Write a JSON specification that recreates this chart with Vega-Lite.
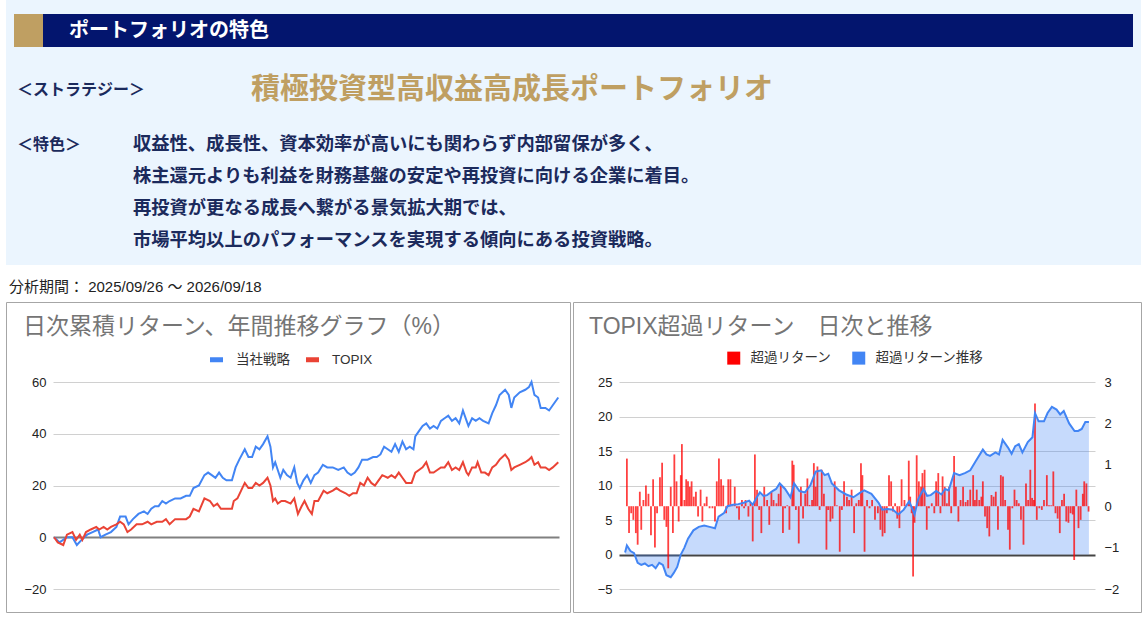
{
  "$schema": "https://vega.github.io/schema/vega-lite/v6.json",
  "padding": {"left": 5, "top": 0, "right": 1, "bottom": 0},
  "background": "white",
  "config": {
    "font": "Liberation Sans, Noto Sans CJK JP, sans-serif",
    "view": {"stroke": null},
    "axis": {"labelFontSize": 13, "labelColor": "#222222", "domain": false, "ticks": false, "tickSize": 0, "title": null, "labelFont": "Liberation Sans, Noto Sans CJK JP, sans-serif"},
    "legend": {"labelFont": "Liberation Sans, Noto Sans CJK JP, sans-serif", "labelFontSize": 13.5, "labelColor": "#333333", "title": null, "padding": 0}
  },
  "datasets": {
    "cum": [
      {"t":145,"s":"当社戦略","v":0},{"t":160,"s":"当社戦略","v":-2},{"t":180,"s":"当社戦略","v":0},{"t":195,"s":"当社戦略","v":0},{"t":207,"s":"当社戦略","v":-3},{"t":220,"s":"当社戦略","v":-1},{"t":235,"s":"当社戦略","v":1},{"t":250,"s":"当社戦略","v":2},{"t":265,"s":"当社戦略","v":3},{"t":272,"s":"当社戦略","v":0},{"t":285,"s":"当社戦略","v":1},{"t":300,"s":"当社戦略","v":2},{"t":315,"s":"当社戦略","v":4},{"t":325,"s":"当社戦略","v":8},{"t":340,"s":"当社戦略","v":8},{"t":348,"s":"当社戦略","v":5},{"t":360,"s":"当社戦略","v":7},{"t":375,"s":"当社戦略","v":9},{"t":390,"s":"当社戦略","v":10},{"t":400,"s":"当社戦略","v":9},{"t":410,"s":"当社戦略","v":11},{"t":420,"s":"当社戦略","v":12},{"t":430,"s":"当社戦略","v":12},{"t":440,"s":"当社戦略","v":14},{"t":450,"s":"当社戦略","v":13},{"t":460,"s":"当社戦略","v":14},{"t":475,"s":"当社戦略","v":15},{"t":490,"s":"当社戦略","v":15},{"t":505,"s":"当社戦略","v":16},{"t":515,"s":"当社戦略","v":16},{"t":525,"s":"当社戦略","v":19},{"t":540,"s":"当社戦略","v":20},{"t":555,"s":"当社戦略","v":24},{"t":565,"s":"当社戦略","v":25},{"t":575,"s":"当社戦略","v":24},{"t":585,"s":"当社戦略","v":23},{"t":595,"s":"当社戦略","v":25},{"t":605,"s":"当社戦略","v":23},{"t":615,"s":"当社戦略","v":22},{"t":630,"s":"当社戦略","v":22},{"t":640,"s":"当社戦略","v":27},{"t":650,"s":"当社戦略","v":30},{"t":665,"s":"当社戦略","v":34},{"t":675,"s":"当社戦略","v":31},{"t":685,"s":"当社戦略","v":31},{"t":695,"s":"当社戦略","v":35},{"t":705,"s":"当社戦略","v":34},{"t":715,"s":"当社戦略","v":36},{"t":727,"s":"当社戦略","v":39},{"t":735,"s":"当社戦略","v":35},{"t":742,"s":"当社戦略","v":27},{"t":748,"s":"当社戦略","v":29},{"t":755,"s":"当社戦略","v":26},{"t":762,"s":"当社戦略","v":23},{"t":770,"s":"当社戦略","v":26},{"t":780,"s":"当社戦略","v":24},{"t":790,"s":"当社戦略","v":23},{"t":800,"s":"当社戦略","v":27},{"t":808,"s":"当社戦略","v":21},{"t":815,"s":"当社戦略","v":19},{"t":825,"s":"当社戦略","v":22},{"t":835,"s":"当社戦略","v":24},{"t":845,"s":"当社戦略","v":21},{"t":855,"s":"当社戦略","v":24},{"t":865,"s":"当社戦略","v":25},{"t":878,"s":"当社戦略","v":28},{"t":890,"s":"当社戦略","v":27},{"t":905,"s":"当社戦略","v":27},{"t":920,"s":"当社戦略","v":26},{"t":935,"s":"当社戦略","v":27},{"t":945,"s":"当社戦略","v":25},{"t":955,"s":"当社戦略","v":24},{"t":965,"s":"当社戦略","v":25},{"t":975,"s":"当社戦略","v":27},{"t":985,"s":"当社戦略","v":30},{"t":1000,"s":"当社戦略","v":30},{"t":1015,"s":"当社戦略","v":31},{"t":1025,"s":"当社戦略","v":31},{"t":1035,"s":"当社戦略","v":32},{"t":1045,"s":"当社戦略","v":35},{"t":1055,"s":"当社戦略","v":34},{"t":1065,"s":"当社戦略","v":33},{"t":1075,"s":"当社戦略","v":36},{"t":1085,"s":"当社戦略","v":33},{"t":1095,"s":"当社戦略","v":37},{"t":1105,"s":"当社戦略","v":34},{"t":1115,"s":"当社戦略","v":35},{"t":1125,"s":"当社戦略","v":34},{"t":1130,"s":"当社戦略","v":39},{"t":1140,"s":"当社戦略","v":41},{"t":1150,"s":"当社戦略","v":43},{"t":1160,"s":"当社戦略","v":44},{"t":1170,"s":"当社戦略","v":42},{"t":1180,"s":"当社戦略","v":43},{"t":1190,"s":"当社戦略","v":42},{"t":1200,"s":"当社戦略","v":45},{"t":1210,"s":"当社戦略","v":46},{"t":1220,"s":"当社戦略","v":47},{"t":1230,"s":"当社戦略","v":45},{"t":1240,"s":"当社戦略","v":46},{"t":1250,"s":"当社戦略","v":44},{"t":1260,"s":"当社戦略","v":49},{"t":1270,"s":"当社戦略","v":45},{"t":1275,"s":"当社戦略","v":43},{"t":1285,"s":"当社戦略","v":46},{"t":1295,"s":"当社戦略","v":45},{"t":1305,"s":"当社戦略","v":46},{"t":1315,"s":"当社戦略","v":45},{"t":1330,"s":"当社戦略","v":44},{"t":1340,"s":"当社戦略","v":48},{"t":1350,"s":"当社戦略","v":51},{"t":1360,"s":"当社戦略","v":55},{"t":1375,"s":"当社戦略","v":57},{"t":1385,"s":"当社戦略","v":55},{"t":1392,"s":"当社戦略","v":50},{"t":1400,"s":"当社戦略","v":54},{"t":1415,"s":"当社戦略","v":56},{"t":1430,"s":"当社戦略","v":57},{"t":1440,"s":"当社戦略","v":58},{"t":1447,"s":"当社戦略","v":60},{"t":1455,"s":"当社戦略","v":55},{"t":1465,"s":"当社戦略","v":54},{"t":1472,"s":"当社戦略","v":50},{"t":1485,"s":"当社戦略","v":50},{"t":1495,"s":"当社戦略","v":49},{"t":1505,"s":"当社戦略","v":51},{"t":1520,"s":"当社戦略","v":54},
      {"t":145,"s":"TOPIX","v":0},{"t":155,"s":"TOPIX","v":-2},{"t":170,"s":"TOPIX","v":-3},{"t":180,"s":"TOPIX","v":1},{"t":195,"s":"TOPIX","v":2},{"t":205,"s":"TOPIX","v":-1},{"t":215,"s":"TOPIX","v":1},{"t":222,"s":"TOPIX","v":-1},{"t":232,"s":"TOPIX","v":2},{"t":245,"s":"TOPIX","v":3},{"t":260,"s":"TOPIX","v":4},{"t":268,"s":"TOPIX","v":3},{"t":280,"s":"TOPIX","v":4},{"t":290,"s":"TOPIX","v":3},{"t":300,"s":"TOPIX","v":4},{"t":315,"s":"TOPIX","v":5},{"t":325,"s":"TOPIX","v":6},{"t":335,"s":"TOPIX","v":5},{"t":345,"s":"TOPIX","v":2},{"t":355,"s":"TOPIX","v":3},{"t":370,"s":"TOPIX","v":5},{"t":385,"s":"TOPIX","v":5},{"t":400,"s":"TOPIX","v":6},{"t":410,"s":"TOPIX","v":5},{"t":425,"s":"TOPIX","v":6},{"t":440,"s":"TOPIX","v":6},{"t":450,"s":"TOPIX","v":7},{"t":460,"s":"TOPIX","v":5},{"t":475,"s":"TOPIX","v":7},{"t":490,"s":"TOPIX","v":7},{"t":505,"s":"TOPIX","v":7},{"t":515,"s":"TOPIX","v":8},{"t":525,"s":"TOPIX","v":11},{"t":540,"s":"TOPIX","v":10},{"t":555,"s":"TOPIX","v":15},{"t":570,"s":"TOPIX","v":14},{"t":580,"s":"TOPIX","v":12},{"t":590,"s":"TOPIX","v":13},{"t":600,"s":"TOPIX","v":11},{"t":615,"s":"TOPIX","v":11},{"t":630,"s":"TOPIX","v":11},{"t":635,"s":"TOPIX","v":14},{"t":645,"s":"TOPIX","v":15},{"t":655,"s":"TOPIX","v":18},{"t":665,"s":"TOPIX","v":21},{"t":675,"s":"TOPIX","v":19},{"t":685,"s":"TOPIX","v":19},{"t":695,"s":"TOPIX","v":21},{"t":705,"s":"TOPIX","v":20},{"t":715,"s":"TOPIX","v":21},{"t":727,"s":"TOPIX","v":23},{"t":735,"s":"TOPIX","v":20},{"t":742,"s":"TOPIX","v":14},{"t":748,"s":"TOPIX","v":15},{"t":755,"s":"TOPIX","v":13},{"t":765,"s":"TOPIX","v":14},{"t":775,"s":"TOPIX","v":14},{"t":790,"s":"TOPIX","v":13},{"t":800,"s":"TOPIX","v":15},{"t":810,"s":"TOPIX","v":9},{"t":820,"s":"TOPIX","v":12},{"t":828,"s":"TOPIX","v":14},{"t":838,"s":"TOPIX","v":11},{"t":848,"s":"TOPIX","v":9},{"t":855,"s":"TOPIX","v":14},{"t":865,"s":"TOPIX","v":14},{"t":880,"s":"TOPIX","v":18},{"t":890,"s":"TOPIX","v":17},{"t":905,"s":"TOPIX","v":18},{"t":915,"s":"TOPIX","v":19},{"t":925,"s":"TOPIX","v":18},{"t":940,"s":"TOPIX","v":17},{"t":950,"s":"TOPIX","v":16},{"t":960,"s":"TOPIX","v":17},{"t":970,"s":"TOPIX","v":17},{"t":980,"s":"TOPIX","v":21},{"t":990,"s":"TOPIX","v":20},{"t":1000,"s":"TOPIX","v":23},{"t":1010,"s":"TOPIX","v":21},{"t":1020,"s":"TOPIX","v":20},{"t":1030,"s":"TOPIX","v":22},{"t":1040,"s":"TOPIX","v":24},{"t":1055,"s":"TOPIX","v":23},{"t":1065,"s":"TOPIX","v":24},{"t":1075,"s":"TOPIX","v":23},{"t":1085,"s":"TOPIX","v":25},{"t":1095,"s":"TOPIX","v":23},{"t":1105,"s":"TOPIX","v":21},{"t":1120,"s":"TOPIX","v":21},{"t":1130,"s":"TOPIX","v":25},{"t":1140,"s":"TOPIX","v":26},{"t":1150,"s":"TOPIX","v":27},{"t":1160,"s":"TOPIX","v":29},{"t":1170,"s":"TOPIX","v":25},{"t":1180,"s":"TOPIX","v":25},{"t":1190,"s":"TOPIX","v":26},{"t":1200,"s":"TOPIX","v":27},{"t":1210,"s":"TOPIX","v":27},{"t":1220,"s":"TOPIX","v":29},{"t":1230,"s":"TOPIX","v":26},{"t":1240,"s":"TOPIX","v":27},{"t":1250,"s":"TOPIX","v":26},{"t":1260,"s":"TOPIX","v":29},{"t":1270,"s":"TOPIX","v":25},{"t":1275,"s":"TOPIX","v":24},{"t":1285,"s":"TOPIX","v":27},{"t":1295,"s":"TOPIX","v":27},{"t":1300,"s":"TOPIX","v":29},{"t":1310,"s":"TOPIX","v":25},{"t":1320,"s":"TOPIX","v":25},{"t":1330,"s":"TOPIX","v":24},{"t":1340,"s":"TOPIX","v":27},{"t":1350,"s":"TOPIX","v":28},{"t":1360,"s":"TOPIX","v":30},{"t":1375,"s":"TOPIX","v":32},{"t":1385,"s":"TOPIX","v":30},{"t":1392,"s":"TOPIX","v":26},{"t":1400,"s":"TOPIX","v":27},{"t":1415,"s":"TOPIX","v":28},{"t":1430,"s":"TOPIX","v":29},{"t":1440,"s":"TOPIX","v":30},{"t":1447,"s":"TOPIX","v":31},{"t":1455,"s":"TOPIX","v":28},{"t":1465,"s":"TOPIX","v":29},{"t":1472,"s":"TOPIX","v":27},{"t":1485,"s":"TOPIX","v":27},{"t":1495,"s":"TOPIX","v":26},{"t":1505,"s":"TOPIX","v":27},{"t":1520,"s":"TOPIX","v":29}
    ],
    "excess": [
      {"t":135,"v":0.3},{"t":140,"v":1.3},{"t":150,"v":0.5},{"t":160,"v":0.2},{"t":170,"v":-1.2},{"t":180,"v":-1.5},{"t":190,"v":-1.3},{"t":200,"v":-1.7},{"t":210,"v":-1.5},{"t":220,"v":-2.0},{"t":230,"v":-1.2},{"t":240,"v":-1.5},{"t":250,"v":-3.0},{"t":262,"v":-3.3},{"t":270,"v":-2.7},{"t":280,"v":-1.8},{"t":290,"v":0},{"t":300,"v":1.0},{"t":310,"v":2.3},{"t":325,"v":3.5},{"t":340,"v":4.0},{"t":355,"v":4.2},{"t":370,"v":4.0},{"t":385,"v":3.8},{"t":395,"v":5.5},{"t":410,"v":6.0},{"t":420,"v":7.0},{"t":435,"v":7.2},{"t":450,"v":7.3},{"t":465,"v":7.5},{"t":480,"v":7.8},{"t":490,"v":7.2},{"t":500,"v":8.2},{"t":510,"v":9.0},{"t":520,"v":8.5},{"t":530,"v":8.6},{"t":545,"v":9.2},{"t":555,"v":9.5},{"t":565,"v":10.3},{"t":580,"v":9.5},{"t":595,"v":8.3},{"t":605,"v":10.3},{"t":620,"v":9.2},{"t":635,"v":9.0},{"t":650,"v":10.0},{"t":665,"v":12.0},{"t":680,"v":12.2},{"t":690,"v":11.5},{"t":700,"v":11.7},{"t":710,"v":10.3},{"t":730,"v":9.3},{"t":750,"v":8.7},{"t":770,"v":8.3},{"t":790,"v":9.0},{"t":800,"v":9.3},{"t":820,"v":8.8},{"t":840,"v":7.5},{"t":850,"v":6.5},{"t":865,"v":6.6},{"t":880,"v":6.5},{"t":895,"v":5.8},{"t":910,"v":6.5},{"t":925,"v":7.7},{"t":935,"v":6.5},{"t":940,"v":5.8},{"t":950,"v":8.0},{"t":965,"v":9.5},{"t":975,"v":8.5},{"t":985,"v":8.6},{"t":1000,"v":9.2},{"t":1015,"v":8.7},{"t":1025,"v":9.5},{"t":1035,"v":9.3},{"t":1050,"v":11.8},{"t":1065,"v":11.5},{"t":1080,"v":11.8},{"t":1095,"v":12.2},{"t":1110,"v":13.5},{"t":1130,"v":15.2},{"t":1140,"v":14.5},{"t":1150,"v":14.3},{"t":1165,"v":14.8},{"t":1175,"v":14.5},{"t":1185,"v":16.6},{"t":1200,"v":15.5},{"t":1210,"v":14.6},{"t":1220,"v":15.7},{"t":1230,"v":16.0},{"t":1240,"v":14.8},{"t":1255,"v":16.3},{"t":1268,"v":17.0},{"t":1275,"v":20.5},{"t":1285,"v":19.3},{"t":1300,"v":19.3},{"t":1310,"v":20.5},{"t":1322,"v":21.4},{"t":1335,"v":21.0},{"t":1345,"v":20.3},{"t":1355,"v":20.8},{"t":1370,"v":19.0},{"t":1385,"v":17.9},{"t":1395,"v":17.9},{"t":1405,"v":18.2},{"t":1415,"v":19.2},{"t":1425,"v":19.2}
    ],
    "daily": [
      {"t":140,"v":1.15},{"t":146,"v":-0.65},{"t":152,"v":-0.17},{"t":158,"v":-0.33},{"t":165,"v":-0.65},{"t":170,"v":-0.93},{"t":176,"v":0.35},{"t":180,"v":-0.57},{"t":186,"v":0.15},{"t":193,"v":0.5},{"t":200,"v":0.3},{"t":207,"v":-0.7},{"t":213,"v":0.65},{"t":218,"v":-1.0},{"t":224,"v":-0.17},{"t":232,"v":0.7},{"t":238,"v":1.05},{"t":244,"v":-0.33},{"t":250,"v":-0.5},{"t":255,"v":-1.5},{"t":262,"v":0.47},{"t":268,"v":-0.65},{"t":272,"v":1.25},{"t":278,"v":0.6},{"t":284,"v":-0.37},{"t":290,"v":0.75},{"t":293,"v":1.5},{"t":300,"v":0.15},{"t":305,"v":0.65},{"t":310,"v":0.6},{"t":315,"v":0.47},{"t":320,"v":0.6},{"t":326,"v":0.23},{"t":332,"v":0.35},{"t":338,"v":-0.25},{"t":345,"v":0.4},{"t":350,"v":-0.37},{"t":356,"v":0.07},{"t":362,"v":0.23},{"t":370,"v":-0.05},{"t":378,"v":-0.05},{"t":385,"v":-0.37},{"t":390,"v":0.6},{"t":396,"v":1.15},{"t":402,"v":0.65},{"t":408,"v":0.5},{"t":416,"v":-0.17},{"t":422,"v":0.65},{"t":428,"v":0.65},{"t":434,"v":0.02},{"t":440,"v":0.47},{"t":446,"v":-0.05},{"t":452,"v":-0.33},{"t":460,"v":0.15},{"t":466,"v":-0.05},{"t":470,"v":0.15},{"t":478,"v":-0.25},{"t":484,"v":0.1},{"t":490,"v":-0.85},{"t":496,"v":1.25},{"t":502,"v":0.4},{"t":508,"v":-0.09},{"t":514,"v":-0.65},{"t":522,"v":0.47},{"t":530,"v":0.15},{"t":536,"v":-0.45},{"t":542,"v":0.35},{"t":548,"v":0.15},{"t":556,"v":0.07},{"t":562,"v":0.3},{"t":568,"v":0.5},{"t":574,"v":-0.65},{"t":580,"v":-0.05},{"t":586,"v":0.02},{"t":592,"v":-0.57},{"t":600,"v":1.1},{"t":604,"v":1.0},{"t":610,"v":-0.09},{"t":618,"v":-0.9},{"t":624,"v":0.47},{"t":630,"v":-0.3},{"t":636,"v":0.3},{"t":642,"v":0.67},{"t":648,"v":0.03},{"t":655,"v":0.15},{"t":660,"v":1.04},{"t":665,"v":0.47},{"t":670,"v":0.96},{"t":676,"v":-0.09},{"t":682,"v":0.88},{"t":688,"v":0.3},{"t":695,"v":-1.05},{"t":700,"v":-0.09},{"t":706,"v":-0.37},{"t":712,"v":-0.3},{"t":718,"v":0.6},{"t":724,"v":0.02},{"t":732,"v":-1.1},{"t":738,"v":-0.09},{"t":744,"v":0.6},{"t":752,"v":0.23},{"t":758,"v":0.15},{"t":765,"v":0.4},{"t":772,"v":-0.65},{"t":778,"v":0.07},{"t":785,"v":0.15},{"t":791,"v":1.04},{"t":795,"v":0.75},{"t":801,"v":-1.1},{"t":808,"v":0.15},{"t":815,"v":-0.05},{"t":822,"v":0.15},{"t":830,"v":-0.33},{"t":838,"v":-0.17},{"t":845,"v":-0.57},{"t":851,"v":-0.73},{"t":857,"v":-0.65},{"t":863,"v":-0.17},{"t":869,"v":0.75},{"t":875,"v":0.6},{"t":880,"v":-0.13},{"t":886,"v":0.07},{"t":892,"v":-0.3},{"t":898,"v":-0.53},{"t":904,"v":0.65},{"t":912,"v":0.15},{"t":918,"v":0.02},{"t":924,"v":1.1},{"t":928,"v":0.23},{"t":932,"v":-0.17},{"t":936,"v":-1.7},{"t":940,"v":-0.4},{"t":946,"v":1.23},{"t":952,"v":0.6},{"t":958,"v":0.47},{"t":962,"v":0.8},{"t":968,"v":0.88},{"t":974,"v":-0.57},{"t":980,"v":-0.05},{"t":988,"v":0.07},{"t":995,"v":-0.17},{"t":1000,"v":0.6},{"t":1006,"v":0.8},{"t":1012,"v":-0.17},{"t":1018,"v":0.72},{"t":1024,"v":0.47},{"t":1030,"v":0.07},{"t":1036,"v":0.47},{"t":1042,"v":-0.17},{"t":1050,"v":1.21},{"t":1055,"v":0.47},{"t":1062,"v":-0.37},{"t":1068,"v":0.15},{"t":1075,"v":0.47},{"t":1082,"v":0.1},{"t":1088,"v":0.15},{"t":1095,"v":0.4},{"t":1103,"v":0.75},{"t":1108,"v":0.15},{"t":1113,"v":0.4},{"t":1120,"v":0.15},{"t":1126,"v":0.23},{"t":1130,"v":0.6},{"t":1136,"v":-0.25},{"t":1142,"v":-0.53},{"t":1148,"v":-0.73},{"t":1154,"v":0.27},{"t":1160,"v":0.23},{"t":1166,"v":0.35},{"t":1172,"v":-0.57},{"t":1180,"v":0.75},{"t":1186,"v":0.72},{"t":1192,"v":0.15},{"t":1200,"v":-0.57},{"t":1205,"v":-1.05},{"t":1212,"v":-0.05},{"t":1218,"v":0.4},{"t":1224,"v":0.15},{"t":1230,"v":0.07},{"t":1236,"v":-0.33},{"t":1243,"v":-0.93},{"t":1250,"v":0.55},{"t":1256,"v":0.15},{"t":1262,"v":0.88},{"t":1267,"v":0.2},{"t":1272,"v":0.15},{"t":1275,"v":2.48},{"t":1280,"v":-0.33},{"t":1287,"v":-0.05},{"t":1294,"v":-0.09},{"t":1300,"v":0.15},{"t":1308,"v":0.75},{"t":1314,"v":0.02},{"t":1320,"v":0.02},{"t":1326,"v":0.84},{"t":1332,"v":-0.17},{"t":1338,"v":-0.3},{"t":1344,"v":-0.65},{"t":1350,"v":0.15},{"t":1356,"v":0.3},{"t":1362,"v":-0.37},{"t":1368,"v":-0.4},{"t":1374,"v":-0.17},{"t":1380,"v":-0.2},{"t":1384,"v":-1.3},{"t":1390,"v":0.4},{"t":1396,"v":-0.53},{"t":1402,"v":-0.33},{"t":1408,"v":0.3},{"t":1412,"v":0.6},{"t":1418,"v":0.55},{"t":1424,"v":-0.13}
    ]
  },
  "vconcat": [
    {
      "width": 1135,
      "height": 265,
      "view": {"fill": "#EBF5FE", "stroke": null},
      "layer": [
        {
          "data": {"values": [{"item": "accent"}]},
          "mark": {"type": "rect", "color": "#BF9F62"},
          "encoding": {
            "x": {"datum": 8, "type": "quantitative", "scale": {"domain": [0, 1135], "nice": false, "zero": false}, "axis": null},
            "x2": {"datum": 37},
            "y": {"datum": 14, "type": "quantitative", "scale": {"domain": [0, 265], "nice": false, "zero": false, "reverse": true}, "axis": null},
            "y2": {"datum": 47}
          }
        },
        {
          "data": {"values": [{"item": "band"}]},
          "mark": {"type": "rect", "color": "#03156E"},
          "encoding": {
            "x": {"datum": 37, "type": "quantitative"},
            "x2": {"datum": 1127},
            "y": {"datum": 14, "type": "quantitative"},
            "y2": {"datum": 47}
          }
        },
        {
          "data": {"values": [{"text": "ポートフォリオの特色"}]},
          "mark": {"type": "text", "color": "white", "fontSize": 20, "fontWeight": "bold", "font": "Noto Sans CJK JP", "align": "left", "baseline": "middle"},
          "encoding": {
            "x": {"datum": 63, "type": "quantitative"},
            "y": {"datum": 31, "type": "quantitative"},
            "text": {"field": "text"}
          }
        },
        {
          "data": {"values": [{"text": "＜ストラテジー＞"}]},
          "mark": {"type": "text", "color": "#1B2A5C", "fontSize": 16, "fontWeight": "bold", "font": "Noto Sans CJK JP", "align": "left", "baseline": "middle"},
          "encoding": {
            "x": {"datum": 11, "type": "quantitative"},
            "y": {"datum": 90, "type": "quantitative"},
            "text": {"field": "text"}
          }
        },
        {
          "data": {"values": [{"text": "＜特色＞"}]},
          "mark": {"type": "text", "color": "#1B2A5C", "fontSize": 16, "fontWeight": "bold", "font": "Noto Sans CJK JP", "align": "left", "baseline": "middle"},
          "encoding": {
            "x": {"datum": 11, "type": "quantitative"},
            "y": {"datum": 145, "type": "quantitative"},
            "text": {"field": "text"}
          }
        },
        {
          "data": {"values": [{"text": "積極投資型高収益高成長ポートフォリオ"}]},
          "mark": {"type": "text", "color": "#BF9F62", "fontSize": 29, "fontWeight": "bold", "font": "Noto Sans CJK JP", "align": "left", "baseline": "middle"},
          "encoding": {
            "x": {"datum": 245, "type": "quantitative"},
            "y": {"datum": 90, "type": "quantitative"},
            "text": {"field": "text"}
          }
        },
        {
          "data": {"values": [{"text": "収益性、成長性、資本効率が高いにも関わらず内部留保が多く、\n株主還元よりも利益を財務基盤の安定や再投資に向ける企業に着目。\n再投資が更なる成長へ繋がる景気拡大期では、\n市場平均以上のパフォーマンスを実現する傾向にある投資戦略。"}]},
          "mark": {"type": "text", "color": "#1B2A5C", "fontSize": 18.3, "fontWeight": "bold", "font": "Noto Sans CJK JP", "align": "left", "baseline": "middle", "lineBreak": "\n", "lineHeight": 32},
          "encoding": {
            "x": {"datum": 127, "type": "quantitative"},
            "y": {"datum": 145, "type": "quantitative"},
            "text": {"field": "text"}
          }
        }
      ]
    },
    {
      "title": {"text": "分析期間： 2025/09/26 ～ 2026/09/18", "anchor": "start", "frame": "group", "fontSize": 15, "fontWeight": "normal", "color": "#222222", "offset": 10, "dx": 3, "dy": 3, "font": "Liberation Sans, Noto Sans CJK JP"},
      "spacing": 3,
      "bounds": "flush",
      "resolve": {"scale": {"color": "independent"}, "legend": {"color": "independent"}},
      "hconcat": [
        {
          "width": 564,
          "height": 310,
          "view": {"fill": "white", "stroke": "#A6A6A6", "strokeWidth": 1},
          "title": {"text": "日次累積リターン、年間推移グラフ（%）", "anchor": "start", "frame": "group", "orient": "top", "offset": -37, "dx": 17, "dy": 23, "baseline": "bottom", "fontSize": 23, "fontWeight": "normal", "color": "#757575", "font": "Liberation Sans, Noto Sans CJK JP"},
          "data": {"name": "cum"},
          "mark": {"type": "line", "strokeWidth": 2},
          "encoding": {
            "x": {"field": "t", "type": "quantitative", "scale": {"domain": [142, 1522], "range": [47, 553], "nice": false, "zero": false}, "axis": null},
            "y": {"field": "v", "type": "quantitative", "scale": {"domain": [-20, 60], "range": [287, 80], "nice": false, "zero": false},
              "axis": {"values": [-20, 0, 20, 40, 60], "offset": -40, "labelPadding": 0, "grid": true,
                "gridColor": {"condition": {"test": "datum.value === 0", "value": "#808080"}, "value": "#D0D0D0"},
                "gridWidth": {"condition": {"test": "datum.value === 0", "value": 2}, "value": 1}}},
            "color": {"field": "s", "type": "nominal", "scale": {"domain": ["当社戦略", "TOPIX"], "range": ["#4285F4", "#EA4335"]},
              "legend": {"orient": "none", "legendX": 201, "legendY": 48, "direction": "horizontal", "symbolType": "stroke", "symbolStrokeWidth": 5, "symbolSize": 170, "labelOffset": 10, "columnPadding": 5}}
          }
        },
        {
          "width": 568,
          "height": 310,
          "view": {"fill": "white", "stroke": "#A6A6A6", "strokeWidth": 1},
          "title": {"text": "TOPIX超過リターン　日次と推移", "anchor": "start", "frame": "group", "orient": "top", "offset": -37, "dx": 16, "dy": 23, "baseline": "bottom", "fontSize": 23, "fontWeight": "normal", "color": "#757575", "font": "Liberation Sans, Noto Sans CJK JP"},
          "resolve": {"scale": {"y": "independent"}},
          "layer": [
            {
              "data": {"name": "excess"},
              "mark": {"type": "area", "fillOpacity": 0.3},
              "encoding": {
                "x": {"field": "t", "type": "quantitative", "scale": {"domain": [132, 1428], "range": [46, 522], "nice": false, "zero": false}, "axis": null},
                "y": {"field": "v", "type": "quantitative", "scale": {"domain": [-5, 25], "range": [287, 80], "nice": false, "zero": false},
                  "axis": {"values": [-5, 0, 5, 10, 15, 20, 25], "offset": -39, "labelPadding": 0, "grid": true,
                    "gridColor": {"condition": {"test": "datum.value === 0", "value": "#444444"}, "value": "#D0D0D0"},
                    "gridWidth": {"condition": {"test": "datum.value === 0", "value": 2}, "value": 1}}},
                "color": {"datum": "超過リターン推移", "type": "nominal", "scale": {"domain": ["超過リターン", "超過リターン推移"], "range": ["#FF0000", "#4285F4"]},
                  "legend": {"orient": "none", "legendX": 154, "legendY": 49, "direction": "horizontal", "symbolType": "square", "symbolSize": 169, "symbolOpacity": 1, "symbolFillOpacity": 1, "symbolStrokeWidth": 0, "labelOffset": 10, "columnPadding": 20}}
              }
            },
            {
              "data": {"name": "daily"},
              "mark": {"type": "bar", "orient": "vertical", "width": 1.8, "fillOpacity": 0.75},
              "encoding": {
                "x": {"field": "t", "type": "quantitative"},
                "y": {"field": "v", "type": "quantitative", "scale": {"domain": [-2, 3], "range": [287, 80], "nice": false, "zero": false},
                  "axis": {"orient": "right", "values": [-2, -1, 0, 1, 2, 3], "offset": -38, "labelPadding": 1, "grid": false}},
                "y2": {"datum": 0},
                "color": {"datum": "超過リターン", "type": "nominal"}
              }
            },
            {
              "data": {"name": "excess"},
              "mark": {"type": "line", "color": "#4285F4", "strokeWidth": 2},
              "encoding": {
                "x": {"field": "t", "type": "quantitative"},
                "y": {"field": "v", "type": "quantitative", "scale": {"domain": [-5, 25], "range": [287, 80], "nice": false, "zero": false}, "axis": null}
              }
            }
          ]
        }
      ]
    }
  ],
  "spacing": 37,
  "bounds": "flush"
}
